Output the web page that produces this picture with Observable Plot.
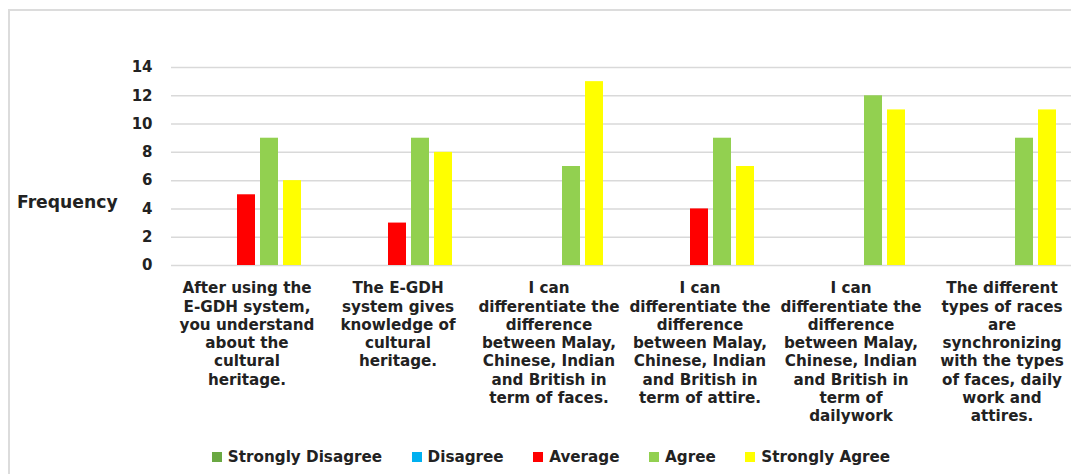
<!DOCTYPE html>
<html>
<head>
<meta charset="utf-8">
<script src="https://cdn.jsdelivr.net/npm/d3@7"></script>
<script src="https://cdn.jsdelivr.net/npm/@observablehq/plot@0.6"></script>
<style>
  html, body { margin: 0; padding: 0; background: #fff; }
  #wrap { position: relative; width: 1071px; height: 474px; overflow: hidden; font-family: "DejaVu Sans", sans-serif; font-weight: bold; color: #222; }
  #frame { position: absolute; left: 8px; top: 9px; width: 1100px; height: 500px; border-top: 2px solid #dcdcdc; border-left: 2px solid #dcdcdc; box-sizing: border-box; }
  #chart { position: absolute; left: 0; top: 0; }
  #ylabel { position: absolute; left: 17px; top: 192px; font-size: 17.2px; }
  #legend { position: absolute; top: 448px; left: 0; width: 1071px; display: flex; justify-content: center; padding-left: 31px; box-sizing: border-box; font-size: 15.2px; }
  .item { display: flex; align-items: center; margin-right: 29.5px; }
  .item:last-child { margin-right: 0; }
  .sw { width: 10px; height: 10px; margin-right: 6px; }
</style>
</head>
<body>
<div id="wrap">
  <div id="frame"></div>
  <div id="chart"></div>
  <div id="ylabel">Frequency</div>
  <div id="legend"></div>
</div>
<script>
const categories = [
  "After using the\nE-GDH system,\nyou understand\nabout the\ncultural\nheritage.",
  "The E-GDH\nsystem gives\nknowledge of\ncultural\nheritage.",
  "I can\ndifferentiate the\ndifference\nbetween Malay,\nChinese, Indian\nand British in\nterm of faces.",
  "I can\ndifferentiate the\ndifference\nbetween Malay,\nChinese, Indian\nand British in\nterm of attire.",
  "I can\ndifferentiate the\ndifference\nbetween Malay,\nChinese, Indian\nand British in\nterm of\ndailywork",
  "The different\ntypes of races\nare\nsynchronizing\nwith the types\nof faces, daily\nwork and\nattires."
];
const responses = ["Strongly Disagree", "Disagree", "Average", "Agree", "Strongly Agree"];
const colors = ["#6aa842", "#00b0f0", "#ff0000", "#92d050", "#ffff00"];
const stronglyDisagree = [0, 0, 0, 0, 0, 0];
const disagree = [0, 0, 0, 0, 0, 0];
const average = [5, 3, 0, 4, 0, 0];
const agree = [9, 9, 7, 9, 12, 9];
const stronglyAgree = [6, 8, 13, 7, 11, 11];
const yTicks = [0, 2, 4, 6, 8, 10, 12, 14];

const series = [stronglyDisagree, disagree, average, agree, stronglyAgree];
const data = [];
categories.forEach((c, i) => {
  responses.forEach((r, j) => data.push({category: c, response: r, value: series[j][i]}));
});

const chart = Plot.plot({
  width: 1071,
  height: 440,
  marginTop: 67,
  marginBottom: 175,
  marginLeft: 171,
  marginRight: -6,
  style: {fontFamily: "DejaVu Sans, sans-serif", fontWeight: "bold", fontSize: "15px", color: "#222", background: "transparent"},
  fx: {domain: categories, padding: 0, axis: null},
  x: {domain: responses, paddingInner: 0.2, paddingOuter: 0.83, axis: null},
  y: {domain: [0, 14]},
  color: {domain: responses, range: colors},
  marks: [
    Plot.gridY(yTicks, {stroke: "#d9d9d9", strokeOpacity: 1, strokeWidth: 1.5}),
    Plot.barY(data, {fx: "category", x: "response", y: "value", fill: "response"}),
    Plot.axisY(yTicks, {tickSize: 0, tickPadding: 19, label: null, fontSize: 15, fontWeight: "bold", fill: "#222"}),
    Plot.text(categories, {fx: d => d, text: d => d, frameAnchor: "bottom", lineAnchor: "top", dy: 15, lineHeight: 1.2, fontSize: 15.2, fontWeight: "bold", fill: "#222"})
  ]
});
document.getElementById("chart").appendChild(chart);

const legend = document.getElementById("legend");
responses.forEach((r, j) => {
  const item = document.createElement("div");
  item.className = "item";
  const sw = document.createElement("div");
  sw.className = "sw";
  sw.style.background = colors[j];
  item.appendChild(sw);
  item.appendChild(document.createTextNode(r));
  legend.appendChild(item);
});
</script>
</body>
</html>
